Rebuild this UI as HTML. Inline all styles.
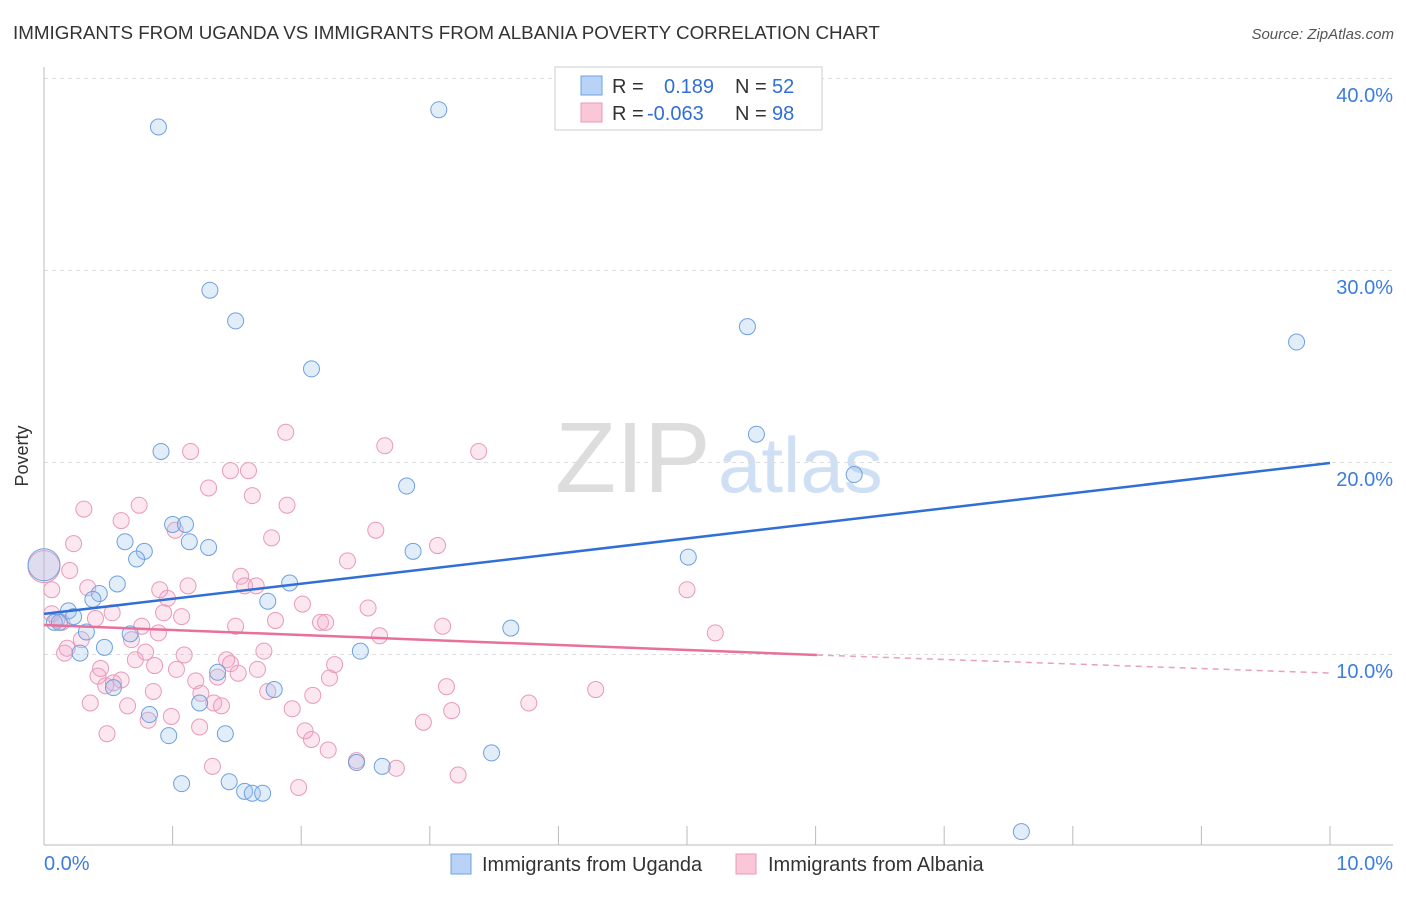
<!DOCTYPE html>
<html><head><meta charset="utf-8"><style>
body{margin:0;background:#fff;font-family:"Liberation Sans",sans-serif;}
svg text{font-family:"Liberation Sans",sans-serif;}
</style></head><body>
<svg id="chart" width="1406" height="892" xmlns="http://www.w3.org/2000/svg">
<text x="13" y="39" font-size="18.8" fill="#333">IMMIGRANTS FROM UGANDA VS IMMIGRANTS FROM ALBANIA POVERTY CORRELATION CHART</text>
<text x="1394" y="39" font-size="15" fill="#555" font-style="italic" text-anchor="end">Source: ZipAtlas.com</text>
<text x="28" y="456" font-size="18" fill="#333" transform="rotate(-90 28 456)" text-anchor="middle">Poverty</text>
<g>
<text x="555" y="492" font-size="100" fill="#ddd" font-family="Liberation Serif,serif">ZIP</text>
<text x="718" y="492" font-size="78" fill="#cfe0f5">atlas</text>
</g>
<g id="grid"></g><g id="axes"></g><g id="marks"></g><g id="trends"></g>
<g>
<rect x="555" y="67" width="267" height="63" fill="#fff" stroke="#ccc"/>
<rect x="581" y="76" width="21" height="19" fill="#b8d3f5" stroke="#6fa0e0"/>
<rect x="581" y="103" width="21" height="19" fill="#f9c7d8" stroke="#e89ab8"/>
<text y="93" font-size="20"><tspan x="612" fill="#333">R = </tspan><tspan x="664" fill="#2f6fd6">0.189</tspan><tspan x="735" fill="#333">N = </tspan><tspan x="772" fill="#2f6fd6">52</tspan></text>
<text y="120" font-size="20"><tspan x="612" fill="#333">R = </tspan><tspan x="647" fill="#2f6fd6">-0.063</tspan><tspan x="735" fill="#333">N = </tspan><tspan x="772" fill="#2f6fd6">98</tspan></text>
</g>
<g>
<rect x="451" y="854" width="20" height="20" fill="#b8d3f5" stroke="#6fa0e0"/>
<text x="482" y="871" font-size="20" fill="#333">Immigrants from Uganda</text>
<rect x="736" y="854" width="20" height="20" fill="#f9c7d8" stroke="#e89ab8"/>
<text x="768" y="871" font-size="20" fill="#333">Immigrants from Albania</text>
</g>
</svg>
<script>
const yTicks=[10,20,30,40];
const yTickLabels=["10.0%","20.0%","30.0%","40.0%"];
const xTickLabels=["0.0%","10.0%"];
const ugandaX=[0.89,3.07,1.29,1.49,2.08,5.47,9.74,0.91,5.54,6.30,2.82,1.00,1.10,0.63,1.13,1.28,0.78,0.72,2.87,5.01,0.0,0.57,1.91,0.43,0.38,1.74,0.19,0.23,0.08,0.12,0.33,3.63,0.67,0.47,0.28,2.46,1.35,0.54,1.79,0.82,1.21,0.97,1.41,3.48,2.43,2.63,1.44,1.07,1.56,1.62,1.70,7.60];
const ugandaY=[37.5,38.4,29.0,27.4,24.9,27.1,26.3,20.6,21.5,19.4,18.8,16.8,16.8,15.9,15.9,15.6,15.4,15.0,15.4,15.1,14.7,13.7,13.75,13.2,12.9,12.8,12.3,12.0,11.7,11.7,11.2,11.4,11.1,10.4,10.1,10.2,9.1,8.3,8.2,6.9,7.5,5.8,5.9,4.9,4.4,4.2,3.4,3.3,2.9,2.8,2.8,0.8];
const ugandaBig=[20];
const albaniaX=[2.65,3.38,1.14,1.88,1.45,1.59,1.28,1.62,0.74,1.89,0.31,0.60,1.02,2.58,1.77,3.06,0.23,2.36,0.20,1.53,1.56,1.65,0.90,1.12,5.00,0.06,0.34,0.96,2.01,2.52,0.53,0.40,1.07,0.93,0.06,0.10,0.14,1.80,1.49,2.15,2.19,3.10,0.76,0.89,2.61,5.22,0.29,0.68,0.18,0.16,1.09,1.42,0.71,1.71,0.79,0.44,0.86,1.03,1.45,1.66,2.26,0.42,0.60,1.51,1.35,2.22,0.48,0.54,1.18,3.13,4.29,1.74,0.85,1.22,2.09,0.36,0.65,1.32,1.38,1.93,3.77,3.17,0.81,0.99,1.21,2.95,2.03,0.49,2.08,2.21,2.43,1.31,2.74,3.22,1.98,0.0];
const albaniaY=[20.9,20.6,20.6,21.6,19.6,19.6,18.7,18.3,17.8,17.8,17.6,17.0,16.5,16.5,16.1,15.7,15.8,14.9,14.4,14.1,13.6,13.6,13.4,13.6,13.4,13.4,13.5,12.95,12.65,12.45,12.2,11.9,12.0,12.2,12.15,11.85,11.7,11.8,11.5,11.7,11.7,11.5,11.5,11.15,11.0,11.15,10.8,10.8,10.35,10.1,10.0,9.75,9.75,10.2,10.15,9.3,9.45,9.25,9.55,9.25,9.5,8.9,8.7,9.05,8.85,8.8,8.4,8.55,8.65,8.35,8.2,8.1,8.1,8.0,7.9,7.5,7.35,7.5,7.35,7.2,7.5,7.1,6.6,6.8,6.25,6.5,6.05,5.9,5.6,5.05,4.5,4.2,4.1,3.75,3.1,14.6];
const albaniaBig=[95];
const ugandaTrendX=[0,10];
const ugandaTrendY=[12.14,20.0];
const albaniaTrendX=[0,6.01,10];
const albaniaTrendY=[11.56,10.0,9.06];

const NS="http://www.w3.org/2000/svg";
const X0=44,X1=1330,Y0=847,YPER=19.2;
function sx(v){return X0+(X1-X0)*v/10;}
function sy(v){return Y0-v*YPER;}
function mk(tag,attrs,parent){const e=document.createElementNS(NS,tag);for(const k in attrs)e.setAttribute(k,attrs[k]);document.getElementById(parent).appendChild(e);return e;}

yTicks.forEach((t,i)=>{
  const l=mk('line',{x1:X0,x2:1393,y1:sy(t)-0.5,y2:sy(t)-0.5,stroke:'#ddd','stroke-dasharray':'4,4'},'grid');
  
  
  const tx=mk('text',{x:1393,y:sy(t)+23,'font-size':20,fill:'#3b7ddd','text-anchor':'end'},'grid');
  tx.textContent=yTickLabels[i];
  
  
});
const ax=mk('line',{x1:X0,x2:1393,y1:845,y2:845,stroke:'#bbb'},'axes');


const ay=mk('line',{x1:X0,x2:X0,y1:67,y2:845,stroke:'#bbb'},'axes');


for(let i=1;i<=10;i++){
  const t=mk('line',{x1:sx(i),x2:sx(i),y1:826,y2:845,stroke:'#bbb'},'axes');
  
  
}
[0,10].forEach((v,i)=>{
  const t=mk('text',{x:i?1393:44,y:870,'font-size':20,fill:'#3b7ddd','text-anchor':i?'end':'start'},'axes');
  t.textContent=xTickLabels[i];
  
  
});
function pts(xs,ys,big,fill,stroke,name){
  xs.forEach((x,i)=>{
    const r=big.includes(i)?16:8;
    const c=mk('circle',{cx:sx(x),cy:sy(ys[i]),r:r,fill:fill,stroke:stroke,'stroke-width':1},'marks');
    
    
  });
}
pts(albaniaX,albaniaY,albaniaBig,'rgba(244,170,200,0.28)','#e89ab8','albania-point');
pts(ugandaX,ugandaY,ugandaBig,'rgba(160,196,240,0.3)','#6fa0e0','uganda-point');
const bl=mk('line',{x1:sx(ugandaTrendX[0]),y1:sy(ugandaTrendY[0]),x2:sx(ugandaTrendX[1]),y2:sy(ugandaTrendY[1]),stroke:'#2f6fd6','stroke-width':2.5},'trends');


const pl=mk('line',{x1:sx(albaniaTrendX[0]),y1:sy(albaniaTrendY[0]),x2:sx(albaniaTrendX[1]),y2:sy(albaniaTrendY[1]),stroke:'#e8709a','stroke-width':2.5},'trends');


const pd=mk('line',{x1:sx(albaniaTrendX[1]),y1:sy(albaniaTrendY[1]),x2:sx(albaniaTrendX[2]),y2:sy(albaniaTrendY[2]),stroke:'#e8a0bc','stroke-width':1.5,'stroke-dasharray':'6,5'},'trends');


</script>
</body></html>
